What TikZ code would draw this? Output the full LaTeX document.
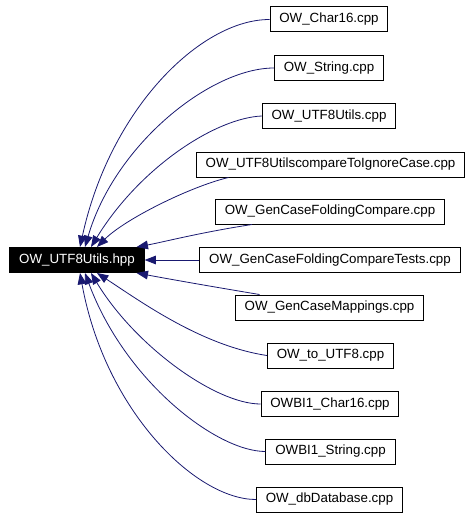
\documentclass[tikz,border=0pt]{standalone}
\usepackage{fontspec}
\setmainfont{Liberation Sans}
\usetikzlibrary{arrows.meta,calc}
\definecolor{edgeblue}{RGB}{25,25,112}

\tikzset{
  file/.style={draw=black, line width=0.75pt, fill=white, minimum height=18.75pt,
    inner xsep=7pt, font=\fontsize{10}{12}\selectfont},
  mainfile/.style={file, fill=black, text=white},
  incl/.style={edgeblue, line width=0.6pt, -{Triangle[length=8.5pt,width=6.5pt]}}
}

\begin{document}
\begin{tikzpicture}[x=0.75pt,y=-0.75pt]
  \useasboundingbox (0,0) rectangle (472,517);

  \node[mainfile] (utils) at (77,260) {OW\_UTF8Utils.hpp};

  \node[file] (char16)   at (329,19.5)  {OW\_Char16.cpp};
  \node[file] (string)   at (329,68)    {OW\_String.cpp};
  \node[file] (utilscpp) at (329,116)   {OW\_UTF8Utils.cpp};
  \node[file] (cmpcase)  at (330.5,164.5) {OW\_UTF8UtilscompareToIgnoreCase.cpp};
  \node[file] (gcfold)   at (330,211.5) {OW\_GenCaseFoldingCompare.cpp};
  \node[file] (gcftests) at (330,260)   {OW\_GenCaseFoldingCompareTests.cpp};
  \node[file] (gcmap)    at (329.5,307.5) {OW\_GenCaseMappings.cpp};
  \node[file] (toutf)    at (330.5,355.5) {OW\_to\_UTF8.cpp};
  \node[file] (bichar)   at (330,404)   {OWBI1\_Char16.cpp};
  \node[file] (bistring) at (330.5,451.5) {OWBI1\_String.cpp};
  \node[file] (dbase)    at (329.5,499.5) {OW\_dbDatabase.cpp};

  % includes above the header
  \draw[incl] (char16.west) .. controls +(-69,0) and +(30,-138) .. ($(utils.north)+(3,0)$);
  \draw[incl] (string.west) .. controls +(-63,0) and +(30,-103) .. ($(utils.north)+(8,0)$);
  \draw[incl] (utilscpp.west) .. controls +(-46,2) and +(49,-80) .. ($(utils.north)+(14,0)$);
  \draw[incl] ($(cmpcase.south)+(-102,0)$) .. controls +(-38,9) and +(28,-28) .. ($(utils.north)+(20,0)$);
  \draw[incl] ($(gcfold.south)+(-78,0)$) .. controls +(-52,8) and +(27,-5) .. ($(utils.north east)+(-8,0)$);
  \draw[incl] (gcftests.west) -- (utils.east);
  % includes below the header
  \draw[incl] ($(gcmap.north)+(-70,0)$) .. controls +(-60,-10) and +(27,5) .. ($(utils.south east)+(-8,0)$);
  \draw[incl] (toutf.west) .. controls +(-66,-10) and +(43,28) .. ($(utils.south)+(20,0)$);
  \draw[incl] (bichar.west) .. controls +(-45,0) and +(44,73) .. ($(utils.south)+(14,0)$);
  \draw[incl] (bistring.west) .. controls +(-49,0) and +(40,108) .. ($(utils.south)+(8,0)$);
  \draw[incl] (dbase.west) .. controls +(-60,0) and +(25,138) .. ($(utils.south)+(3,0)$);
\end{tikzpicture}
\end{document}
